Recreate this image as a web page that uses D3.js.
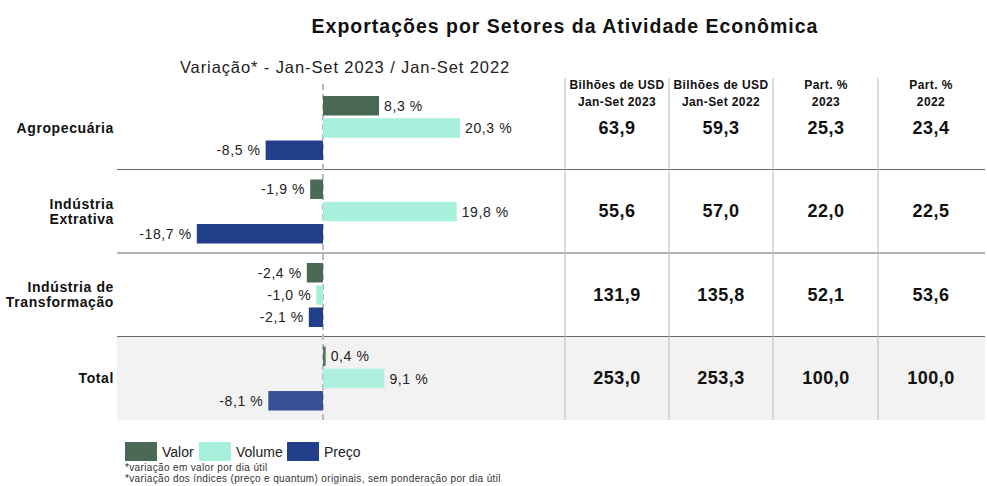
<!DOCTYPE html>
<html>
<head>
<meta charset="utf-8">
<script src="https://cdn.jsdelivr.net/npm/d3@7"></script>
<style>
  body { margin: 0; background: #fff; }
  svg { font-family: "Liberation Sans", Arial, sans-serif; }
</style>
</head>
<body>
<svg id="chart" width="987" height="486"></svg>
<script>
// dados
const categories = ['Agropecuária', 'Indústria Extrativa', 'Indústria de Transformação', 'Total']
const catLines = [['Agropecuária'], ['Indústria', 'Extrativa'], ['Indústria de', 'Transformação'], ['Total']]
const series = ['Valor', 'Volume', 'Preço']
const valor = [8.3, -1.9, -2.4, 0.4]
const volume = [20.3, 19.8, -1.0, 9.1]
const preco = [-8.5, -18.7, -2.1, -8.1]
const usd2023 = ['63,9', '55,6', '131,9', '253,0']
const usd2022 = ['59,3', '57,0', '135,8', '253,3']
const part2023 = ['25,3', '22,0', '52,1', '100,0']
const part2022 = ['23,4', '22,5', '53,6', '100,0']
const colHeaders = [['Bilhões de USD', 'Jan-Set 2023'], ['Bilhões de USD', 'Jan-Set 2022'], ['Part. %', '2023'], ['Part. %', '2022']]

const colors = { 'Valor': '#4a6a56', 'Volume': '#a6f0dc', 'Preço': '#223f8c' }

let svg = d3.select('#chart')

let x = d3.scaleLinear().domain([-20, 22]).range([188, 471.5])
let y = d3.scaleBand().domain(categories).range([86, 420]).padding(0)
let yInner = d3.scaleBand().domain(series).range([10, 74]).paddingInner(0.125)

// titulo
svg.append('text')
   .attr('x', 565).attr('y', 33)
   .attr('text-anchor', 'middle')
   .style('font-size', '19.5px').style('font-weight', 'bold').style('fill', '#111')
   .style('letter-spacing', '1px')
   .text('Exportações por Setores da Atividade Econômica')

svg.append('text')
   .attr('x', 345).attr('y', 73)
   .attr('text-anchor', 'middle')
   .style('font-size', '16.5px').style('fill', '#222')
   .style('letter-spacing', '0.9px')
   .text('Variação* - Jan-Set 2023 / Jan-Set 2022')

// fundo cinza da linha Total
svg.append('rect')
   .attr('x', 117).attr('y', y('Total'))
   .attr('width', 985 - 117).attr('height', y.bandwidth())
   .attr('fill', '#f2f2f2')

// linhas separadoras
svg.append('g')
   .selectAll('line')
   .data(categories.slice(1))
   .enter()
   .append('line')
   .attr('x1', 117).attr('x2', 985)
   .attr('y1', d => y(d)).attr('y2', d => y(d))
   .attr('stroke', '#666').attr('stroke-width', 1)

// colunas da tabela
let colX = [565, 669, 773, 878]
svg.append('g')
   .selectAll('line')
   .data(colX)
   .enter()
   .append('line')
   .attr('x1', d => d).attr('x2', d => d)
   .attr('y1', 78).attr('y2', 420)
   .attr('stroke', '#bbb').attr('stroke-width', 1)

// linha zero tracejada
svg.append('line')
   .attr('x1', x(0)).attr('x2', x(0))
   .attr('y1', 84).attr('y2', 420)
   .attr('stroke', '#bbb').attr('stroke-width', 2)
   .attr('stroke-dasharray', '6,4')

// barras
let rows = categories.map((c, i) => ({
  cat: c,
  vals: [
    { s: 'Valor', v: valor[i] },
    { s: 'Volume', v: volume[i] },
    { s: 'Preço', v: preco[i] }
  ]
}))

let rowG = svg.append('g')
   .selectAll('g')
   .data(rows)
   .enter()
   .append('g')
   .attr('transform', d => `translate(0,${y(d.cat)})`)

rowG.selectAll('rect')
    .data(d => d.vals.map(v => Object.assign({ total: d.cat === 'Total' }, v)))
    .enter()
    .append('rect')
    .attr('x', d => x(Math.min(0, d.v)))
    .attr('y', d => yInner(d.s))
    .attr('width', d => Math.abs(x(d.v) - x(0)))
    .attr('height', yInner.bandwidth())
    .attr('fill', d => colors[d.s])
    .attr('opacity', d => d.total ? 0.9 : 1)

rowG.selectAll('text')
    .data(d => d.vals)
    .enter()
    .append('text')
    .attr('x', d => d.v >= 0 ? x(d.v) + 5 : x(d.v) - 5)
    .attr('y', d => yInner(d.s) + yInner.bandwidth() / 2 + 5)
    .attr('text-anchor', d => d.v >= 0 ? 'start' : 'end')
    .style('font-size', '14px').style('fill', '#222')
    .style('letter-spacing', '0.6px')
    .text(d => d.v.toFixed(1).replace('.', ',') + ' %')

// rotulos das categorias
let catG = svg.append('g')
   .selectAll('text')
   .data(categories)
   .enter()
   .append('text')
   .attr('text-anchor', 'end')
   .style('font-size', '14px').style('font-weight', 'bold').style('fill', '#111')
   .style('letter-spacing', '0.6px')

catG.each(function (d, i) {
  let lines = catLines[i]
  let cy = y(d) + y.bandwidth() / 2
  let t = d3.select(this)
  lines.forEach((l, j) => {
    t.append('tspan')
     .attr('x', 114)
     .attr('y', cy + 5 + (j - (lines.length - 1) / 2) * 15)
     .text(l)
  })
})

// tabela
let colCenters = [617, 721, 826, 931]
colHeaders.forEach((h, k) => {
  h.forEach((l, j) => {
    svg.append('text')
       .attr('x', colCenters[k]).attr('y', 89 + j * 17)
       .attr('text-anchor', 'middle')
       .style('font-size', '12px').style('font-weight', 'bold').style('fill', '#111')
       .style('letter-spacing', '0.4px')
       .text(l)
  })
})

let tableCols = [usd2023, usd2022, part2023, part2022]
tableCols.forEach((col, k) => {
  svg.append('g')
     .selectAll('text')
     .data(col)
     .enter()
     .append('text')
     .attr('x', colCenters[k])
     .attr('y', (d, i) => y(categories[i]) + y.bandwidth() / 2 + 6)
     .attr('text-anchor', 'middle')
     .style('font-size', '18px').style('font-weight', 'bold').style('fill', '#111')
     .style('letter-spacing', '0.5px')
     .text(d => d)
})

// legenda
let legX = [125, 199, 287]
let leg = svg.append('g')
   .selectAll('g')
   .data(series)
   .enter()
   .append('g')
   .attr('transform', (d, i) => `translate(${legX[i]},442)`)
leg.append('rect')
   .attr('width', 32).attr('height', 19)
   .attr('fill', d => colors[d])
leg.append('text')
   .attr('x', 37).attr('y', 15)
   .style('font-size', '14px').style('fill', '#222')
   .text(d => d)

// notas
svg.append('text')
   .attr('x', 125).attr('y', 471)
   .style('font-size', '10px').style('fill', '#333')
   .style('letter-spacing', '0.35px')
   .text('*variação em valor por dia útil')
svg.append('text')
   .attr('x', 125).attr('y', 482)
   .style('font-size', '10px').style('fill', '#333')
   .style('letter-spacing', '0.35px')
   .text('*variação dos índices (preço e quantum) originais, sem ponderação por dia útil')
</script>
</body>
</html>
